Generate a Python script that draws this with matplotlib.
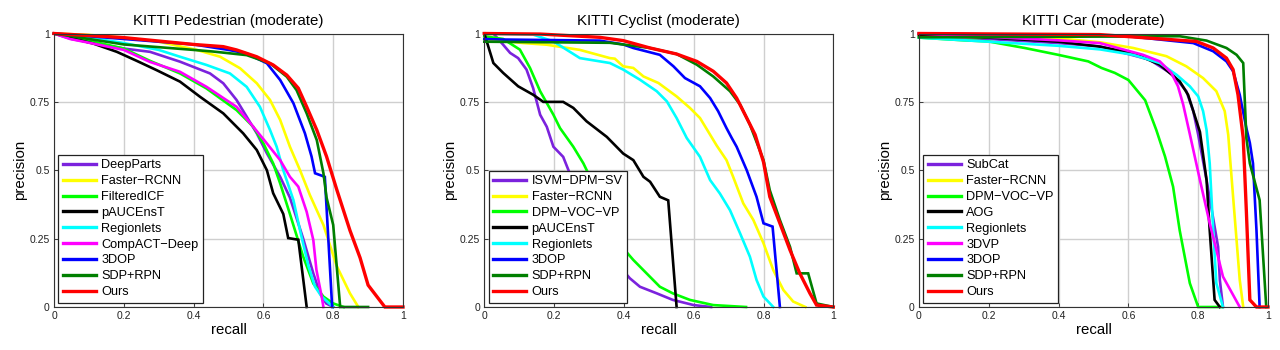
import matplotlib
matplotlib.use("Agg")
import matplotlib.pyplot as plt

plt.rcParams['font.family'] = ['Liberation Sans', 'DejaVu Sans']

# ---------------- Pedestrian ----------------
ped_deepparts_r = [0, 0.05, 0.113, 0.2, 0.275, 0.361, 0.447, 0.485, 0.523, 0.552, 0.581, 0.61, 0.648, 0.676, 0.714, 0.743, 0.762, 0.78, 0.80]
ped_deepparts_p = [1, 0.98, 0.965, 0.945, 0.933, 0.897, 0.854, 0.818, 0.757, 0.696, 0.635, 0.562, 0.476, 0.40, 0.25, 0.123, 0.05, 0.013, 0]
ped_faster_r = [0, 0.1, 0.2, 0.3, 0.409, 0.476, 0.533, 0.581, 0.619, 0.648, 0.676, 0.705, 0.733, 0.772, 0.81, 0.848, 0.872]
ped_faster_p = [1, 0.995, 0.985, 0.97, 0.94, 0.915, 0.873, 0.818, 0.757, 0.684, 0.586, 0.50, 0.41, 0.30, 0.15, 0.05, 0]
ped_ficf_r = [0, 0.113, 0.2, 0.275, 0.361, 0.437, 0.523, 0.571, 0.60, 0.628, 0.648, 0.676, 0.714, 0.743, 0.772, 0.80, 0.83]
ped_ficf_p = [1, 0.97, 0.945, 0.90, 0.854, 0.799, 0.72, 0.659, 0.598, 0.525, 0.452, 0.34, 0.184, 0.086, 0.038, 0.013, 0]
ped_pauc_r = [0, 0.113, 0.18, 0.237, 0.294, 0.361, 0.418, 0.485, 0.542, 0.581, 0.61, 0.628, 0.657, 0.671, 0.70, 0.724]
ped_pauc_p = [1, 0.963, 0.933, 0.90, 0.866, 0.824, 0.769, 0.708, 0.635, 0.574, 0.50, 0.416, 0.34, 0.252, 0.246, 0]
ped_region_r = [0, 0.1, 0.2, 0.3, 0.361, 0.437, 0.504, 0.552, 0.59, 0.619, 0.638, 0.657, 0.686, 0.705, 0.729, 0.748, 0.767, 0.80]
ped_region_p = [1, 0.985, 0.965, 0.94, 0.915, 0.885, 0.854, 0.805, 0.732, 0.647, 0.586, 0.50, 0.391, 0.28, 0.15, 0.074, 0.038, 0]
ped_compact_r = [0, 0.046, 0.113, 0.2, 0.275, 0.361, 0.437, 0.523, 0.571, 0.61, 0.648, 0.676, 0.70, 0.724, 0.743, 0.752, 0.767, 0.772]
ped_compact_p = [1, 0.98, 0.963, 0.94, 0.896, 0.86, 0.805, 0.732, 0.659, 0.598, 0.537, 0.476, 0.44, 0.348, 0.245, 0.135, 0.038, 0]
ped_3dop_r = [0, 0.2, 0.4, 0.5, 0.552, 0.61, 0.648, 0.686, 0.719, 0.738, 0.748, 0.776, 0.797]
ped_3dop_p = [1, 0.98, 0.96, 0.94, 0.927, 0.891, 0.83, 0.745, 0.635, 0.55, 0.489, 0.476, 0]
ped_sdp_r = [0, 0.2, 0.4, 0.456, 0.552, 0.619, 0.667, 0.695, 0.724, 0.753, 0.772, 0.781, 0.80, 0.82, 0.9]
ped_sdp_p = [1, 0.96, 0.94, 0.934, 0.921, 0.891, 0.842, 0.793, 0.708, 0.61, 0.489, 0.40, 0.30, 0, 0]
ped_ours_r = [0, 0.2, 0.4, 0.485, 0.523, 0.581, 0.628, 0.667, 0.70, 0.724, 0.753, 0.781, 0.81, 0.848, 0.877, 0.90, 0.948, 1.0]
ped_ours_p = [1, 0.985, 0.96, 0.952, 0.94, 0.915, 0.885, 0.848, 0.80, 0.732, 0.647, 0.55, 0.43, 0.28, 0.18, 0.08, 0, 0]

# ---------------- Cyclist ----------------
cyc_isvm_r = [0, 0.026, 0.054, 0.074, 0.097, 0.121, 0.14, 0.16, 0.179, 0.198, 0.226, 0.245, 0.28, 0.32, 0.36, 0.40, 0.417, 0.446, 0.494, 0.54, 0.60, 0.65]
cyc_isvm_p = [1, 1.0, 0.959, 0.929, 0.91, 0.868, 0.80, 0.703, 0.659, 0.586, 0.549, 0.488, 0.40, 0.30, 0.21, 0.13, 0.105, 0.074, 0.05, 0.026, 0.007, 0]
cyc_faster_r = [0, 0.112, 0.179, 0.274, 0.36, 0.374, 0.398, 0.427, 0.456, 0.499, 0.551, 0.589, 0.618, 0.647, 0.666, 0.694, 0.713, 0.742, 0.771, 0.80, 0.828, 0.857, 0.885, 0.92]
cyc_faster_p = [0.98, 0.965, 0.959, 0.94, 0.91, 0.908, 0.88, 0.874, 0.843, 0.819, 0.77, 0.728, 0.691, 0.63, 0.59, 0.537, 0.476, 0.379, 0.318, 0.233, 0.135, 0.062, 0.02, 0]
cyc_dpm_r = [0, 0.054, 0.102, 0.131, 0.16, 0.198, 0.217, 0.255, 0.284, 0.298, 0.32, 0.35, 0.38, 0.408, 0.427, 0.465, 0.503, 0.54, 0.589, 0.656, 0.75]
cyc_dpm_p = [0.99, 0.98, 0.941, 0.874, 0.789, 0.703, 0.654, 0.586, 0.525, 0.488, 0.44, 0.37, 0.29, 0.2, 0.172, 0.123, 0.074, 0.05, 0.026, 0.007, 0]
cyc_pauc_r = [0, 0.026, 0.054, 0.097, 0.14, 0.169, 0.226, 0.255, 0.293, 0.351, 0.398, 0.427, 0.456, 0.475, 0.503, 0.527, 0.551]
cyc_pauc_p = [1, 0.892, 0.856, 0.807, 0.776, 0.75, 0.75, 0.728, 0.679, 0.622, 0.561, 0.537, 0.476, 0.458, 0.403, 0.39, 0]
cyc_region_r = [0, 0.14, 0.198, 0.274, 0.36, 0.398, 0.446, 0.494, 0.523, 0.551, 0.58, 0.618, 0.647, 0.675, 0.704, 0.733, 0.761, 0.78, 0.80, 0.828]
cyc_region_p = [1, 0.996, 0.971, 0.91, 0.892, 0.868, 0.831, 0.789, 0.752, 0.691, 0.618, 0.549, 0.464, 0.415, 0.354, 0.269, 0.184, 0.099, 0.038, 0]
cyc_3dop_r = [0, 0.05, 0.331, 0.398, 0.427, 0.503, 0.542, 0.575, 0.618, 0.647, 0.67, 0.694, 0.709, 0.723, 0.752, 0.78, 0.80, 0.826, 0.847]
cyc_3dop_p = [0.98, 0.978, 0.974, 0.96, 0.947, 0.922, 0.88, 0.837, 0.807, 0.764, 0.716, 0.654, 0.618, 0.586, 0.50, 0.403, 0.306, 0.294, 0]
cyc_sdp_r = [0, 0.36, 0.475, 0.551, 0.609, 0.656, 0.704, 0.733, 0.761, 0.80, 0.818, 0.847, 0.876, 0.895, 0.928, 0.952, 1.0]
cyc_sdp_p = [0.97, 0.966, 0.947, 0.925, 0.886, 0.843, 0.789, 0.74, 0.667, 0.537, 0.427, 0.318, 0.22, 0.123, 0.123, 0.013, 0]
cyc_ours_r = [0, 0.16, 0.274, 0.331, 0.398, 0.475, 0.551, 0.609, 0.656, 0.694, 0.723, 0.752, 0.776, 0.80, 0.818, 0.847, 0.876, 0.904, 0.933, 0.952, 1.0]
cyc_ours_p = [1, 0.998, 0.99, 0.986, 0.974, 0.947, 0.925, 0.898, 0.862, 0.819, 0.764, 0.691, 0.63, 0.53, 0.403, 0.306, 0.208, 0.123, 0.05, 0.007, 0]

# ---------------- Car ----------------
car_subcat_r = [0, 0.2, 0.4, 0.518, 0.661, 0.728, 0.766, 0.786, 0.80, 0.824, 0.847, 0.857, 0.862, 0.871]
car_subcat_p = [0.99, 0.98, 0.965, 0.953, 0.904, 0.849, 0.789, 0.716, 0.63, 0.464, 0.294, 0.22, 0.099, 0]
car_faster_r = [0, 0.4, 0.518, 0.614, 0.709, 0.766, 0.814, 0.852, 0.876, 0.886, 0.90, 0.919, 0.929]
car_faster_p = [0.99, 0.982, 0.968, 0.947, 0.917, 0.88, 0.837, 0.789, 0.716, 0.63, 0.403, 0.099, 0]
car_dpm_r = [0, 0.13, 0.199, 0.303, 0.399, 0.485, 0.523, 0.561, 0.6, 0.648, 0.68, 0.705, 0.728, 0.747, 0.762, 0.776, 0.80, 0.87]
car_dpm_p = [0.985, 0.975, 0.971, 0.947, 0.922, 0.898, 0.874, 0.856, 0.83, 0.756, 0.647, 0.55, 0.44, 0.28, 0.18, 0.087, 0, 0]
car_aog_r = [0, 0.2, 0.4, 0.518, 0.614, 0.69, 0.747, 0.771, 0.786, 0.805, 0.824, 0.833, 0.847, 0.862]
car_aog_p = [0.995, 0.985, 0.97, 0.952, 0.928, 0.886, 0.825, 0.776, 0.716, 0.64, 0.464, 0.28, 0.026, 0]
car_region_r = [0, 0.2, 0.4, 0.518, 0.614, 0.69, 0.738, 0.776, 0.80, 0.814, 0.824, 0.833, 0.843, 0.852, 0.871]
car_region_p = [0.985, 0.97, 0.955, 0.942, 0.922, 0.892, 0.849, 0.807, 0.77, 0.716, 0.647, 0.525, 0.28, 0.087, 0]
car_3dvp_r = [0, 0.4, 0.518, 0.642, 0.69, 0.723, 0.742, 0.757, 0.776, 0.805, 0.833, 0.871, 0.919]
car_3dvp_p = [1, 0.975, 0.965, 0.922, 0.898, 0.856, 0.807, 0.74, 0.632, 0.464, 0.306, 0.111, 0]
car_3dop_r = [0, 0.6, 0.786, 0.843, 0.881, 0.90, 0.919, 0.938, 0.948, 0.957, 0.967, 0.976]
car_3dop_p = [1, 0.99, 0.965, 0.935, 0.898, 0.862, 0.776, 0.654, 0.6, 0.525, 0.28, 0]
car_sdp_r = [0, 0.747, 0.824, 0.881, 0.91, 0.929, 0.938, 0.948, 0.976, 0.995]
car_sdp_p = [0.986, 0.99, 0.974, 0.947, 0.922, 0.892, 0.618, 0.525, 0.391, 0]
car_ours_r = [0, 0.518, 0.795, 0.843, 0.881, 0.90, 0.914, 0.929, 0.938, 0.948, 0.967, 1.0]
car_ours_p = [1, 0.996, 0.971, 0.947, 0.91, 0.868, 0.776, 0.618, 0.35, 0.026, 0, 0]

titles = ["KITTI Pedestrian (moderate)", "KITTI Cyclist (moderate)", "KITTI Car (moderate)"]
x_ticks = [0, 0.2, 0.4, 0.6, 0.8, 1]
x_ticklabels = ["0", "0.2", "0.4", "0.6", "0.8", "1"]
y_ticks = [0, 0.25, 0.5, 0.75, 1]
y_ticklabels = ["0", "0.25", "0.5", "0.75", "1"]

PURPLE = '#7b22dd'
YELLOW = '#ffff00'
LGREEN = '#00ff00'
BLACK = '#000000'
CYAN = '#00ffff'
MAGENTA = '#ff00ff'
BLUE = '#0000ff'
DGREEN = '#007f00'
RED = '#ff0000'

panels = [
    [("DeepParts", ped_deepparts_r, ped_deepparts_p, PURPLE),
     ("Faster\u2212RCNN", ped_faster_r, ped_faster_p, YELLOW),
     ("FilteredICF", ped_ficf_r, ped_ficf_p, LGREEN),
     ("pAUCEnsT", ped_pauc_r, ped_pauc_p, BLACK),
     ("Regionlets", ped_region_r, ped_region_p, CYAN),
     ("CompACT\u2212Deep", ped_compact_r, ped_compact_p, MAGENTA),
     ("3DOP", ped_3dop_r, ped_3dop_p, BLUE),
     ("SDP+RPN", ped_sdp_r, ped_sdp_p, DGREEN),
     ("Ours", ped_ours_r, ped_ours_p, RED)],
    [("ISVM\u2212DPM\u2212SV", cyc_isvm_r, cyc_isvm_p, PURPLE),
     ("Faster\u2212RCNN", cyc_faster_r, cyc_faster_p, YELLOW),
     ("DPM\u2212VOC\u2212VP", cyc_dpm_r, cyc_dpm_p, LGREEN),
     ("pAUCEnsT", cyc_pauc_r, cyc_pauc_p, BLACK),
     ("Regionlets", cyc_region_r, cyc_region_p, CYAN),
     ("3DOP", cyc_3dop_r, cyc_3dop_p, BLUE),
     ("SDP+RPN", cyc_sdp_r, cyc_sdp_p, DGREEN),
     ("Ours", cyc_ours_r, cyc_ours_p, RED)],
    [("SubCat", car_subcat_r, car_subcat_p, PURPLE),
     ("Faster\u2212RCNN", car_faster_r, car_faster_p, YELLOW),
     ("DPM\u2212VOC\u2212VP", car_dpm_r, car_dpm_p, LGREEN),
     ("AOG", car_aog_r, car_aog_p, BLACK),
     ("Regionlets", car_region_r, car_region_p, CYAN),
     ("3DVP", car_3dvp_r, car_3dvp_p, MAGENTA),
     ("3DOP", car_3dop_r, car_3dop_p, BLUE),
     ("SDP+RPN", car_sdp_r, car_sdp_p, DGREEN),
     ("Ours", car_ours_r, car_ours_p, RED)],
]

fig = plt.figure(figsize=(12.8, 3.5), dpi=100)
lefts = [54 / 1280, 484.3 / 1280, 919 / 1280]
for i, series in enumerate(panels):
    ax = fig.add_axes([lefts[i], 43 / 350, 349 / 1280, 273.5 / 350])
    for name, r, p, c in series:
        lw = 2.4 if name == "Ours" else 1.9
        ax.plot(r, p, color=c, lw=lw, label=name, clip_on=False, solid_joinstyle='miter')
    ax.set_xlim(0, 1)
    ax.set_ylim(0, 1)
    ax.set_xticks(x_ticks)
    ax.set_xticklabels(x_ticklabels)
    ax.set_yticks(y_ticks)
    ax.set_yticklabels(y_ticklabels)
    ax.grid(True, color='#cfcfcf', lw=1.0, ls='-')
    ax.set_axisbelow(True)
    ax.tick_params(direction='in', length=3, width=0.6, labelsize=7.5, pad=3, colors='#222222')
    for s in ax.spines.values():
        s.set_color('#333333')
        s.set_linewidth(0.8)
    ax.set_title(titles[i], fontsize=10.8, pad=6)
    ax.set_xlabel("recall", fontsize=10.8, labelpad=1)
    ax.set_ylabel("precision", fontsize=10.8, labelpad=2)
    leg = ax.legend(loc='lower left', fontsize=9.2, frameon=True, fancybox=False,
                    edgecolor='#222222', framealpha=1, handlelength=2.6,
                    labelspacing=0.3, borderpad=0.35, handletextpad=0.4,
                    borderaxespad=0.35)
    leg.get_frame().set_linewidth(0.9)
    for line in leg.get_lines():
        line.set_linewidth(2.4)

fig.savefig("out.png", dpi=100)
